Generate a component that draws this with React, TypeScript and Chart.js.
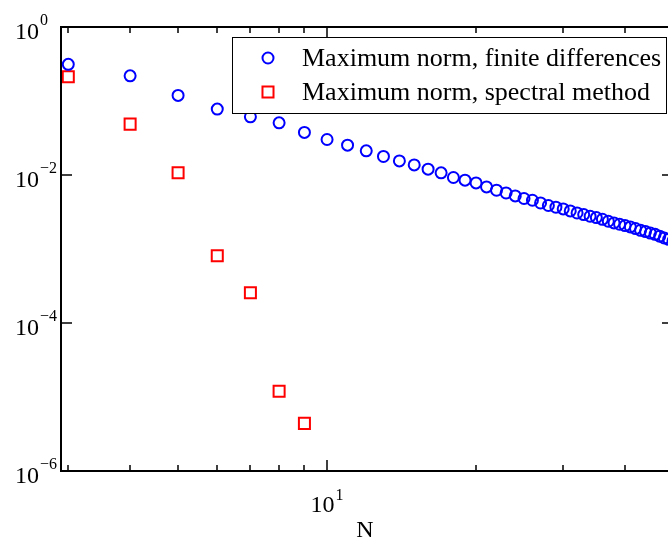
import React, { useEffect, useRef } from "react";
import { Chart, registerables } from "chart.js";

Chart.register(...registerables);

// ---- data ----
const N_FD = [3, 4, 5, 6, 7, 8, 9, 10, 11, 12, 13, 14, 15, 16, 17, 18, 19, 20, 21, 22, 23, 24, 25, 26, 27, 28, 29, 30, 31, 32, 33, 34, 35, 36, 37, 38, 39, 40, 41, 42, 43, 44, 45, 46, 47, 48, 49, 50];
const ERR_FD = [0.313, 0.219, 0.119, 0.0777, 0.0612, 0.0507, 0.0376, 0.0302, 0.0253, 0.0212, 0.0178, 0.0155, 0.0137, 0.012, 0.0107, 0.00925, 0.00851, 0.00782, 0.0069, 0.00623, 0.00572, 0.00522, 0.00481, 0.00456, 0.00419, 0.00387, 0.00367, 0.00348, 0.00327, 0.00307, 0.00292, 0.00277, 0.00266, 0.00252, 0.00237, 0.00225, 0.00216, 0.00207, 0.00199, 0.00189, 0.00179, 0.00172, 0.00164, 0.00158, 0.00149, 0.00141, 0.00135, 0.00129];
const N_SPEC = [3, 4, 5, 6, 7, 8, 9];
const ERR_SPEC = [0.213, 0.0487, 0.0107, 0.00081, 0.000257, 0.000012, 0.0000044];

const LABEL_FD = "Maximum norm, finite differences";
const LABEL_SPEC = "Maximum norm, spectral method";
const X_TITLE = "N";

const X_MIN = 2.9;
const X_MAX = 50;
const Y_MIN = 1e-6;
const Y_MAX = 1;

const X_MAJOR_TICKS = [10];
const X_MINOR_TICKS = [3, 4, 5, 6, 7, 8, 9, 20, 30, 40, 50];
const X_TICK_BASES = ["10"];
const X_TICK_EXPONENTS = ["1"];
const Y_MAJOR_TICKS = [1, 1e-2, 1e-4, 1e-6];
const Y_TICK_BASES = ["10", "10", "10", "10"];
const Y_TICK_EXPONENTS = ["0", "\u22122", "\u22124", "\u22126"];

const SERIF = "'Liberation Serif', 'Times New Roman', serif";

const axesPlugin = {
  id: "matlabAxes",
  afterDraw(chart: any) {
    const ctx = chart.ctx as CanvasRenderingContext2D;
    const { left, right, top, bottom } = chart.chartArea;
    const xs = chart.scales.x;
    const ys = chart.scales.y;
    ctx.save();
    ctx.strokeStyle = "#000";
    ctx.fillStyle = "#000";

    // box
    ctx.lineWidth = 2;
    ctx.strokeRect(left, top, right - left, bottom - top);

    // ticks (inward)
    ctx.lineWidth = 1.5;
    const xTick = (v: number, len: number) => {
      const px = Math.round(xs.getPixelForValue(v));
      ctx.beginPath();
      ctx.moveTo(px, bottom);
      ctx.lineTo(px, bottom - len);
      ctx.moveTo(px, top);
      ctx.lineTo(px, top + len);
      ctx.stroke();
    };
    X_MAJOR_TICKS.forEach((v) => xTick(v, 11));
    X_MINOR_TICKS.forEach((v) => xTick(v, 6));
    Y_MAJOR_TICKS.forEach((v) => {
      const py = Math.round(ys.getPixelForValue(v));
      ctx.beginPath();
      ctx.moveTo(left, py);
      ctx.lineTo(left + 11, py);
      ctx.moveTo(right, py);
      ctx.lineTo(right - 11, py);
      ctx.stroke();
    });

    // y tick labels (left aligned, with superscripts)
    ctx.textAlign = "left";
    ctx.textBaseline = "alphabetic";
    Y_MAJOR_TICKS.forEach((v, i) => {
      const py = ys.getPixelForValue(v);
      ctx.font = `24px ${SERIF}`;
      ctx.fillText(Y_TICK_BASES[i], 15, py + 12);
      const w = ctx.measureText(Y_TICK_BASES[i]).width;
      ctx.font = `16px ${SERIF}`;
      ctx.fillText(Y_TICK_EXPONENTS[i], 15 + w + 1, py - 2);
    });

    // x tick labels
    X_MAJOR_TICKS.forEach((v, i) => {
      const px = xs.getPixelForValue(v);
      ctx.font = `24px ${SERIF}`;
      const wb = ctx.measureText(X_TICK_BASES[i]).width;
      ctx.font = `16px ${SERIF}`;
      const we = ctx.measureText(X_TICK_EXPONENTS[i]).width;
      const x0 = px - (wb + we + 1) / 2;
      ctx.font = `24px ${SERIF}`;
      ctx.fillText(X_TICK_BASES[i], x0, bottom + 41);
      ctx.font = `16px ${SERIF}`;
      ctx.fillText(X_TICK_EXPONENTS[i], x0 + wb + 1, bottom + 29);
    });

    // x title
    ctx.font = `24px ${SERIF}`;
    ctx.textAlign = "center";
    ctx.fillText(X_TITLE, (left + right) / 2 - 2, bottom + 66);

    // legend
    const lx = 232, ly = 37, lw = 434, lh = 76;
    ctx.fillStyle = "#fff";
    ctx.fillRect(lx, ly, lw, lh);
    ctx.strokeStyle = "#000";
    ctx.lineWidth = 1;
    ctx.strokeRect(lx + 0.5, ly + 0.5, lw, lh);
    const rows = chart.data.datasets;
    rows.forEach((ds: any, i: number) => {
      const cy = 58 + i * 34;
      const cx = 268;
      ctx.strokeStyle = ds.borderColor;
      ctx.lineWidth = ds.borderWidth;
      ctx.beginPath();
      if (ds.pointStyle === "rect") {
        const s = ds.pointRadius * Math.SQRT1_2;
        ctx.rect(cx - s, cy - s, 2 * s, 2 * s);
      } else {
        ctx.arc(cx, cy, ds.pointRadius, 0, Math.PI * 2);
      }
      ctx.stroke();
      ctx.fillStyle = "#000";
      ctx.font = `26px ${SERIF}`;
      ctx.textAlign = "left";
      ctx.fillText(ds.label, 302, cy + 8);
    });
    ctx.restore();
  },
};

export default function App() {
  const ref = useRef<HTMLCanvasElement | null>(null);
  useEffect(() => {
    if (!ref.current) return;
    const chart = new Chart(ref.current, {
      type: "scatter",
      data: {
        datasets: [
          {
            label: LABEL_FD,
            data: N_FD.map((n, i) => ({ x: n, y: ERR_FD[i] })),
            pointStyle: "circle",
            pointRadius: 5.5,
            borderWidth: 2,
            borderColor: "#0000ff",
            backgroundColor: "rgba(0,0,0,0)",
          },
          {
            label: LABEL_SPEC,
            data: N_SPEC.map((n, i) => ({ x: n, y: ERR_SPEC[i] })),
            pointStyle: "rect",
            pointRadius: 7.8,
            borderWidth: 2,
            borderColor: "#ff0000",
            backgroundColor: "rgba(0,0,0,0)",
          },
        ] as any,
      },
      options: {
        animation: false,
        responsive: false,
        devicePixelRatio: 1,
        layout: { padding: { left: 61, top: 27, right: 700 - 673, bottom: 543 - 471 } },
        plugins: { legend: { display: false }, tooltip: { enabled: false }, title: { display: false } },
        scales: {
          x: { type: "logarithmic", min: X_MIN, max: X_MAX, display: false },
          y: { type: "logarithmic", min: Y_MIN, max: Y_MAX, display: false },
        },
      },
      plugins: [axesPlugin],
    });
    return () => chart.destroy();
  }, []);
  return (
    <div style={{ position: "fixed", left: 0, top: 0, width: 668, height: 543, overflow: "hidden", background: "#fff" }}>
      <canvas ref={ref} width={700} height={543} style={{ display: "block", width: 700, height: 543 }} />
    </div>
  );
}
